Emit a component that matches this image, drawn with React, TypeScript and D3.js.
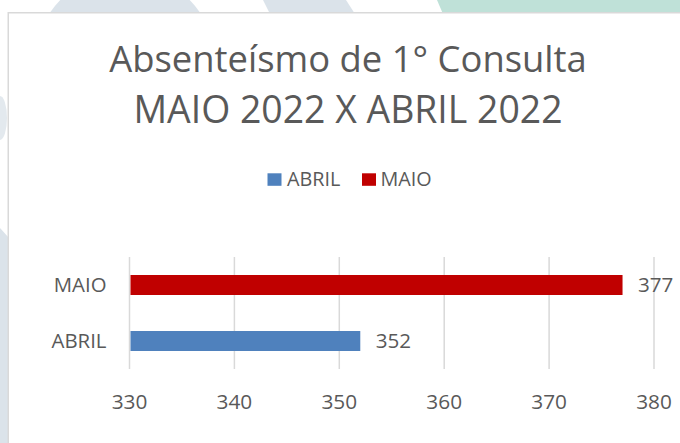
import React from "react";
import * as d3 from "d3";

const series = ["ABRIL", "MAIO"];
const seriesValues = [352, 377];
const categoriesTopToBottom = ["MAIO", "ABRIL"];
const tickValues = [330, 340, 350, 360, 370, 380];
const titleLines = ["Absenteísmo de 1° Consulta", "MAIO 2022 X ABRIL 2022"];

const COLORS: Record<string, string> = { ABRIL: "#4f81bd", MAIO: "#c00000" };
const TEXT = "#595959";
const FONT = "'Open Sans', sans-serif";

export default function App() {
  const W = 680;
  const H = 443;
  const x = d3.scaleLinear().domain([330, 380]).range([129.5, 654]);
  const p = 0.643;
  const y = d3
    .scaleBand<string>()
    .domain(categoriesTopToBottom)
    .range([257, 369])
    .paddingInner(p)
    .paddingOuter(p / 2);
  const valueOf = (c: string) => seriesValues[series.indexOf(c)];

  const legendItems = [
    { name: series[0], sx: 267.5, tx: 287 },
    { name: series[1], sx: 362, tx: 380.5 },
  ];
  const titleSizes = [36.4, 37.4];

  return (
    <svg
      width={W}
      height={H}
      style={{ position: "absolute", left: 0, top: 0, display: "block" }}
      fontFamily={FONT}
    >
      <rect x={0} y={0} width={W} height={H} fill="#ffffff" />
      <circle cx={125} cy={64} r={91} fill="#dbe3ea" />
      <polygon points="263,0 346,0 355,14 270,14" fill="#dbe3ea" />
      <polygon points="437,0 680,0 680,14 443,14" fill="#bfe1d8" />
      <ellipse cx={0} cy={118} rx={7} ry={22} fill="#e3e9ee" />
      <polygon points="0,228 9,238 9,443 0,443" fill="#dbe3ea" />

      <rect
        x={8.25}
        y={12.75}
        width={720}
        height={480}
        fill="#ffffff"
        stroke="#d9d9d9"
        strokeWidth={1.5}
      />

      {titleLines.map((t, i) => (
        <text
          key={t}
          x={348}
          y={72 + i * 50.6}
          textAnchor="middle"
          fontSize={titleSizes[i]}
          fill={TEXT}
        >
          {t}
        </text>
      ))}

      {legendItems.map((it) => (
        <g key={it.name}>
          <rect x={it.sx} y={173.3} width={14} height={12.5} fill={COLORS[it.name]} />
          <text x={it.tx} y={185.9} fontSize={19.8} fill={TEXT}>
            {it.name}
          </text>
        </g>
      ))}

      {tickValues.map((t) => (
        <line
          key={"g" + t}
          x1={x(t)}
          x2={x(t)}
          y1={257}
          y2={369}
          stroke="#d9d9d9"
          strokeWidth={1.5}
        />
      ))}

      {categoriesTopToBottom.map((c) => (
        <rect
          key={"b" + c}
          x={x(330) + 1}
          y={y(c)!}
          width={x(valueOf(c)) - x(330) - 1}
          height={y.bandwidth()}
          fill={COLORS[c]}
        />
      ))}

      {categoriesTopToBottom.map((c) => (
        <text
          key={"v" + c}
          x={x(valueOf(c)) + 15.5}
          y={y(c)! + y.bandwidth() / 2 + 7.3}
          fontSize={20.6}
          fill={TEXT}
        >
          {valueOf(c)}
        </text>
      ))}

      {categoriesTopToBottom.map((c) => (
        <text
          key={"c" + c}
          x={106.5}
          y={y(c)! + y.bandwidth() / 2 + 7.3}
          textAnchor="end"
          fontSize={20.4}
          fill={TEXT}
        >
          {c}
        </text>
      ))}

      {tickValues.map((t) => (
        <text
          key={"t" + t}
          x={x(t)}
          y={409.3}
          textAnchor="middle"
          fontSize={20.8}
          fill={TEXT}
        >
          {t}
        </text>
      ))}
    </svg>
  );
}
